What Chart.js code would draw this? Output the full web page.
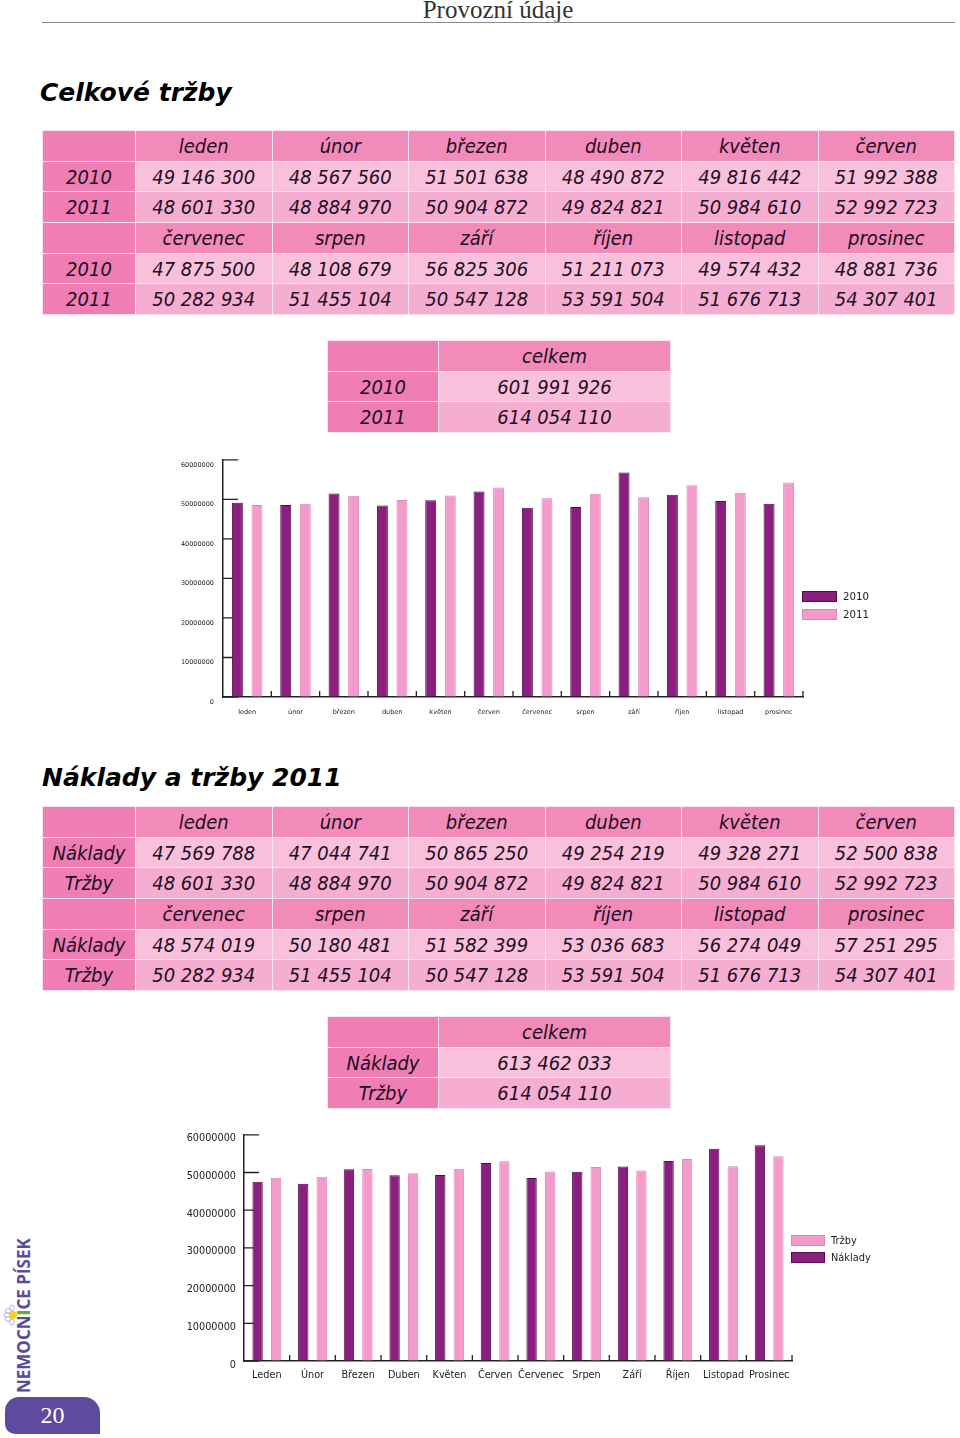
<!DOCTYPE html>
<html lang="cs">
<head>
<meta charset="utf-8">
<title>Provozní údaje</title>
<script src="https://cdn.jsdelivr.net/npm/chart.js@4.4.1/dist/chart.umd.min.js"></script>
<style>
  body { margin: 0; width: 960px; height: 1438px; position: relative; background: #fff; overflow: hidden; }
  #head { position: absolute; left: 398px; top: -1px; width: 200px; text-align: center; font: 25px/22px 'Liberation Serif', serif; color: #333; }
  #rule { position: absolute; left: 42px; top: 22px; width: 913px; border-top: 1.5px solid #8a8a8a; }
  .title { position: absolute; margin: 0; font-family: 'DejaVu Sans', sans-serif; font-style: oblique; font-weight: bold; font-size: 25px; line-height: 30px; color: #000; }
  table.t { position: absolute; border-collapse: collapse; table-layout: fixed; font-family: 'DejaVu Sans Condensed', 'DejaVu Sans', sans-serif; font-style: oblique; font-size: 20px; color: #1c0f1f; }
  table.t td { border: 1px solid #fbe6f0; padding: 0; height: 29.7px; text-align: center; white-space: nowrap; }
  td.lab { background: #ee7eb3; }
  td.hdr { background: #f28bba; }
  td.r1 { background: #f8c0db; }
  td.r2 { background: #f5aed1; }
  canvas { position: absolute; }
  .legend { position: absolute; font-family: 'DejaVu Sans', sans-serif; color: #222; }
  .legend div { display: flex; align-items: center; white-space: nowrap; }
  .legend span.box { display: inline-block; box-sizing: border-box; border: 1px solid; }
  #brand { position: absolute; left: 13.5px; top: 1393px; width: 170px; height: 20px; line-height: 20px; transform-origin: left top; transform: rotate(-90deg); font: bold 17px/20px 'Open Sans', sans-serif; color: #5b4b9c; white-space: nowrap; }
  #brand b { color: #6aaa3a; }
  #flower { position: absolute; left: 3px; top: 1304px; }
  #page { position: absolute; left: 5px; top: 1397px; width: 95px; height: 37px; background: #5e4a9f; border-radius: 14px 16px 0 10px; color: #fff; font: 24px/37px 'Liberation Serif', serif; text-align: center; }
</style>
</head>
<body>
<div id="head">Provozní údaje</div>
<div id="rule"></div>

<h1 class="title" style="left:40px; top:78px;">Celkové tržby</h1>
<table id="tab1" class="t" style="left:42px; top:130px; width:913px;"></table>
<table id="tab2" class="t" style="left:327px; top:340px; width:344px;"></table>
<canvas id="chart1" width="640" height="283" style="left:170px; top:447px;"></canvas>
<div id="legend1" class="legend" style="left:802px; top:587px; font-size:10.2px;"></div>

<h1 class="title" style="left:42px; top:763px;">Náklady a tržby 2011</h1>
<table id="tab3" class="t" style="left:42px; top:806px; width:913px;"></table>
<table id="tab4" class="t" style="left:327px; top:1016px; width:344px;"></table>
<canvas id="chart2" width="630" height="274" style="left:170px; top:1121px;"></canvas>
<div id="legend2" class="legend" style="left:791px; top:1232px; font-size:9.8px;"></div>

<svg id="flower" width="20" height="22" viewBox="0 0 20 22">
  <g fill="#fff" stroke="#a79bd0" stroke-width="0.8">
    <ellipse cx="5" cy="7" rx="3" ry="2.2"/>
    <ellipse cx="5" cy="15" rx="3" ry="2.2"/>
    <ellipse cx="9" cy="4" rx="2.2" ry="3"/>
    <ellipse cx="9" cy="18" rx="2.2" ry="3"/>
    <ellipse cx="4" cy="11" rx="3" ry="2"/>
  </g>
  <circle cx="10" cy="11" r="4" fill="#f3d21f"/>
</svg>
<div id="brand">NEMOCN<b>I</b>CE PÍSEK</div>
<div id="page">20</div>

<script>
// mesice a hodnoty (Kč)
const mesice = ['leden', 'únor', 'březen', 'duben', 'květen', 'červen', 'červenec', 'srpen', 'září', 'říjen', 'listopad', 'prosinec'];
const mesiceVelke = ['Leden', 'Únor', 'Březen', 'Duben', 'Květen', 'Červen', 'Červenec', 'Srpen', 'Září', 'Říjen', 'Listopad', 'Prosinec'];
const trzby2010 = [49146300, 48567560, 51501638, 48490872, 49816442, 51992388, 47875500, 48108679, 56825306, 51211073, 49574432, 48881736];
const trzby2011 = [48601330, 48884970, 50904872, 49824821, 50984610, 52992723, 50282934, 51455104, 50547128, 53591504, 51676713, 54307401];
const naklady2011 = [47569788, 47044741, 50865250, 49254219, 49328271, 52500838, 48574019, 50180481, 51582399, 53036683, 56274049, 57251295];
const celkemRoky = ['2010', '2011'];
const celkemTrzby = [601991926, 614054110];
const celkemPopisky = ['Náklady', 'Tržby'];
const celkem2011 = [613462033, 614054110];
const osaY = [0, 10000000, 20000000, 30000000, 40000000, 50000000, 60000000];

const tmava = { bg: '#8a1f80', border: '#4e0e48' };
const svetla = { bg: '#f59bcc', border: '#d98ab8' };

// mezery mezi tisici
function fmt(n) {
  return String(n).replace(/\B(?=(\d{3})+(?!\d))/g, ' ');
}

function monthTable(el, rows) {
  let html = '<colgroup><col style="width:93px">' + '<col>'.repeat(6) + '</colgroup>';
  for (let half = 0; half < 2; half++) {
    html += '<tr><td class="lab"></td>' + mesice.slice(half * 6, half * 6 + 6).map(m => `<td class="hdr">${m}</td>`).join('') + '</tr>';
    rows.forEach((r, i) => {
      html += `<tr><td class="lab">${r[0]}</td>` + r[1].slice(half * 6, half * 6 + 6).map(v => `<td class="r${i + 1}">${fmt(v)}</td>`).join('') + '</tr>';
    });
  }
  el.innerHTML = html;
}

function totalTable(el, labels, values) {
  let html = '<colgroup><col style="width:111px"><col></colgroup><tr><td class="lab"></td><td class="hdr">celkem</td></tr>';
  labels.forEach((l, i) => {
    html += `<tr><td class="lab">${l}</td><td class="r${i + 1}">${fmt(values[i])}</td></tr>`;
  });
  el.innerHTML = html;
}

monthTable(document.getElementById('tab1'), [['2010', trzby2010], ['2011', trzby2011]]);
totalTable(document.getElementById('tab2'), celkemRoky, celkemTrzby);
monthTable(document.getElementById('tab3'), [['Náklady', naklady2011], ['Tržby', trzby2011]]);
totalTable(document.getElementById('tab4'), celkemPopisky, celkem2011);

// kratke carky na osach, smerem dovnitr grafu
const innerTicks = {
  id: 'innerTicks',
  beforeDatasetsDraw(chart, args, opts) {
    const { ctx, chartArea: a, scales: { x, y } } = chart;
    ctx.save();
    ctx.strokeStyle = '#222';
    ctx.lineWidth = 1.3;
    ctx.beginPath();
    y.ticks.forEach((t, i) => {
      const py = y.getPixelForTick(i);
      ctx.moveTo(a.left, py);
      ctx.lineTo(a.left + opts.yLen, py);
    });
    for (let i = 0; i < x.ticks.length; i++) {
      const px = x.getPixelForValue(i + 0.5);
      ctx.moveTo(px, a.bottom);
      ctx.lineTo(px, a.bottom - opts.xLen);
    }
    ctx.stroke();
    ctx.restore();
  }
};

function makeChart(id, labels, datasets, c) {
  const font = { family: 'DejaVu Sans', size: c.fontSize };
  return new Chart(document.getElementById(id), {
    type: 'bar',
    data: {
      labels: labels,
      datasets: datasets.map(d => ({
        label: d.label,
        data: d.data,
        backgroundColor: d.color.bg,
        borderColor: d.color.border,
        borderWidth: 1,
        categoryPercentage: 0.81,
        barPercentage: 0.56
      }))
    },
    options: {
      responsive: false,
      animation: false,
      devicePixelRatio: 1,
      layout: { padding: { top: 4, right: c.padRight, bottom: c.padBottom, left: 0 } },
      plugins: {
        legend: { display: false },
        tooltip: { enabled: false },
        innerTicks: { yLen: 15, xLen: 6 }
      },
      scales: {
        x: {
          grid: { drawOnChartArea: false, drawTicks: false },
          border: { color: '#222', width: 1.5 },
          ticks: { font: font, color: '#222', padding: c.xPad, maxRotation: 0, autoSkip: false },
          afterFit: s => { s.height = c.xHeight; }
        },
        y: {
          min: osaY[0],
          max: osaY[osaY.length - 1],
          grid: { drawOnChartArea: false, drawTicks: false },
          border: { color: '#222', width: 1.5 },
          ticks: {
            stepSize: osaY[1] - osaY[0],
            font: font,
            color: '#222',
            padding: c.yPad,
            labelOffset: c.labelOffset,
            callback: v => String(v)
          },
          afterFit: s => { s.width = c.yWidth; }
        }
      }
    },
    plugins: [innerTicks]
  });
}

function htmlLegend(el, items, c) {
  el.innerHTML = items.map(it =>
    `<div style="height:${c.step}px"><span class="box" style="width:${c.w}px;height:11px;background:${it.color.bg};border-color:${it.color.border}"></span><span style="margin-left:6px">${it.label}</span></div>`
  ).join('');
}

const ds1 = [
  { label: '2010', data: trzby2010, color: tmava },
  { label: '2011', data: trzby2011, color: svetla }
];
makeChart('chart1', mesice, ds1, {
  fontSize: 6.5, yWidth: 53, padRight: 7, xHeight: 23, padBottom: 10, yPad: 9, xPad: 11, labelOffset: 5
});
htmlLegend(document.getElementById('legend1'), ds1, { step: 18, w: 35 });

const ds2 = [
  { label: 'Náklady', data: naklady2011, color: tmava },
  { label: 'Tržby', data: trzby2011, color: svetla }
];
makeChart('chart2', mesiceVelke, ds2, {
  fontSize: 9.7, yWidth: 74, padRight: 8, xHeight: 26, padBottom: 8, yPad: 8, xPad: 9, labelOffset: 4
});
htmlLegend(document.getElementById('legend2'), [ds2[1], ds2[0]], { step: 17, w: 34 });
</script>
</body>
</html>
